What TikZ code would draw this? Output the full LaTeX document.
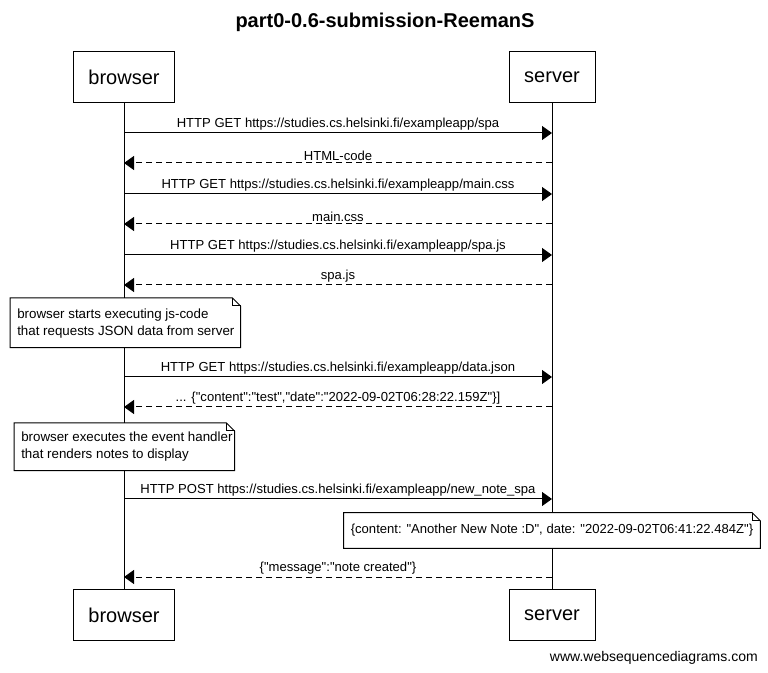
\documentclass[tikz,border=0pt]{standalone}
\usepackage{fontspec}
\setmainfont{Liberation Sans}[Ligatures=TeXOff]
\usetikzlibrary{positioning,calc,arrows.meta}
\tikzset{
  actorBox/.style={
    rectangle,
    draw=black,
    fill=white,
    line width=0.75pt,
    minimum height=38pt,
    inner sep=0pt,
    font=\fontsize{15}{18}\selectfont
  },
  lifeLine/.style={
    line width=0.75pt
  },
  callArrow/.style={
    -{Triangle[length=7.5pt,width=10.5pt]},
    line width=0.75pt
  },
  replyArrow/.style={
    callArrow,
    dash pattern=on 4.5pt off 3pt
  },
  msgLabel/.style={
    above,
    inner sep=1.5pt,
    font=\fontsize{9.8}{12}\selectfont
  },
  noteBox/.style={
    draw=none,
    fill=white,
    inner sep=0pt,
    font=\fontsize{9.8}{12}\selectfont
  },
  noteText/.style={
    align=left,
    inner sep=0pt,
    font=\fontsize{10}{12.75}\selectfont
  }
}
% note outline with folded corner
\newcommand{\dogear}[1]{%
  \draw[line width=0.75pt] (#1.south west) -- (#1.south east) -- ([yshift=-6pt]#1.north east)
    -- ([xshift=-6pt]#1.north east) -- (#1.north west) -- cycle;
  \draw[line width=0.75pt] ([xshift=-6pt]#1.north east) -- ([xshift=-6pt,yshift=-6pt]#1.north east)
    -- ([yshift=-6pt]#1.north east);
}

\begin{document}
\begin{tikzpicture}[x=0.75pt,y=-0.75pt]
  \useasboundingbox (0,0) rectangle (768,673);

  \node[font=\bfseries\fontsize{15}{18}\selectfont] (title) at (385,22) {part0-0.6-submission-ReemanS};

  % lifelines
  \coordinate (browserTop) at (124,77);
  \coordinate (serverTop) at (552,77);
  \coordinate (browserBottom) at (124,615);
  \coordinate (serverBottom) at (552,615);
  \draw[lifeLine] (browserTop) -- (browserBottom);
  \draw[lifeLine] (serverTop) -- (serverBottom);

  \node[actorBox, minimum width=75.75pt] (browser) at (browserTop) {browser};
  \node[actorBox, minimum width=64.5pt] (server) at (serverTop) {server};
  \node[actorBox, minimum width=75.75pt] (browserEnd) at (browserBottom) {browser};
  \node[actorBox, minimum width=64.5pt] (serverEnd) at (serverBottom) {server};

  % messages
  \draw[callArrow] (browser |- 0,133) -- node[msgLabel]{HTTP GET https://studies.cs.helsinki.fi/exampleapp/spa} (server |- 0,133);
  \draw[replyArrow] (server |- 0,163) -- node[msgLabel]{HTML-code} (browser |- 0,163);
  \draw[callArrow] (browser |- 0,194) -- node[msgLabel]{HTTP GET https://studies.cs.helsinki.fi/exampleapp/main.css} (server |- 0,194);
  \draw[replyArrow] (server |- 0,224) -- node[msgLabel]{main.css} (browser |- 0,224);
  \draw[callArrow] (browser |- 0,255) -- node[msgLabel]{HTTP GET https://studies.cs.helsinki.fi/exampleapp/spa.js} (server |- 0,255);
  \draw[replyArrow] (server |- 0,285) -- node[msgLabel]{spa.js} (browser |- 0,285);

  \node[noteBox, anchor=north west, minimum width=172.5pt, minimum height=36.75pt] (startNote) at (10,298) {};
  \dogear{startNote}
  \node[noteText, anchor=north west] (startText) at (17,309) {browser starts executing js-code\\that requests JSON data from server};

  \draw[callArrow] (browser |- 0,377) -- node[msgLabel]{HTTP GET https://studies.cs.helsinki.fi/exampleapp/data.json} (server |- 0,377);
  \draw[replyArrow] (server |- 0,407) -- node[msgLabel]{... \{"content":"test","date":"2022-09-02T06:28:22.159Z"\}]} (browser |- 0,407);

  \node[noteBox, anchor=north west, minimum width=165pt, minimum height=35.25pt] (renderNote) at (14,423) {};
  \dogear{renderNote}
  \node[noteText, anchor=north west] (renderText) at (21,432) {browser executes the event handler\\that renders notes to display};

  \draw[callArrow] (browser |- 0,499) -- node[msgLabel]{HTTP POST https://studies.cs.helsinki.fi/exampleapp/new\_note\_spa} (server |- 0,499);

  \node[noteBox, minimum width=312pt, minimum height=26.25pt] (payloadNote) at (552,530.5) {\{content: "Another New Note :D", date: "2022-09-02T06:41:22.484Z"\}};
  \dogear{payloadNote}

  \draw[replyArrow] (server |- 0,577) -- node[msgLabel]{\{"message":"note created"\}} (browser |- 0,577);

  \node[anchor=east, inner sep=0pt, font=\fontsize{10.5}{12}\selectfont] (footer) at (758,658) {www.websequencediagrams.com};
\end{tikzpicture}
\end{document}
